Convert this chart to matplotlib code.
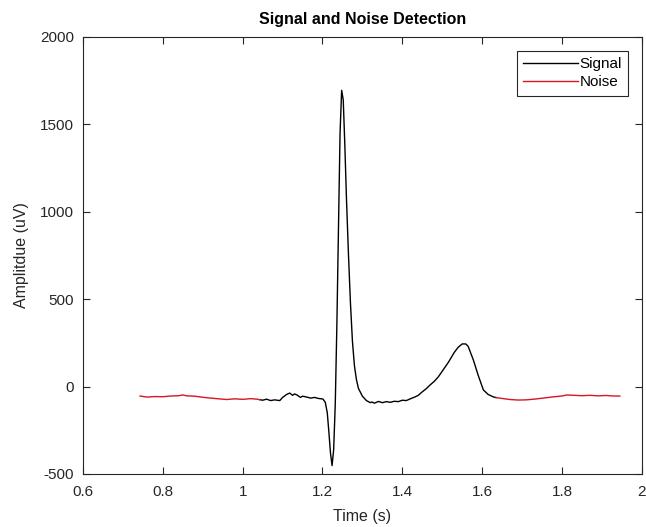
import matplotlib
matplotlib.use("Agg")
import matplotlib.pyplot as plt

plt.rcParams['font.family'] = ['Liberation Sans', 'DejaVu Sans']
plt.rcParams['axes.unicode_minus'] = False

# noise segment before the beat
noise1_t = [0.743, 0.76, 0.78, 0.80, 0.82, 0.84, 0.85, 0.86, 0.88, 0.90, 0.92, 0.94,
            0.96, 0.98, 1.00, 1.02, 1.036, 1.043]
noise1_v = [-54, -60, -57, -58, -54, -52, -48, -53, -55, -61, -66, -70,
            -74, -70, -73, -69, -72, -75]

# detected beat
signal_t = [1.043, 1.05, 1.06, 1.07, 1.08, 1.093, 1.10, 1.11, 1.118, 1.125, 1.13,
            1.136, 1.145, 1.15, 1.161, 1.17, 1.18, 1.19, 1.201, 1.207, 1.212,
            1.216, 1.22, 1.224, 1.228, 1.232, 1.236, 1.24, 1.244, 1.248, 1.252,
            1.256, 1.26, 1.265, 1.27, 1.275, 1.28, 1.285, 1.29, 1.30, 1.31,
            1.32, 1.324, 1.33, 1.34, 1.35, 1.36, 1.37, 1.38, 1.39, 1.40, 1.41,
            1.42, 1.432, 1.44, 1.45, 1.46, 1.47, 1.48, 1.49, 1.50, 1.516, 1.53,
            1.54, 1.55, 1.559, 1.565, 1.578, 1.59, 1.603, 1.615, 1.628, 1.635]
signal_v = [-75, -78, -72, -80, -76, -80, -62, -45, -37, -50, -42,
            -48, -62, -55, -60, -66, -62, -68, -71, -90, -150,
            -260, -380, -452, -360, -100, 350, 900, 1450, 1695, 1640,
            1380, 1080, 760, 480, 260, 120, 40, -10, -55, -80,
            -92, -88, -95, -85, -92, -86, -90, -84, -86, -78, -80,
            -70, -59, -50, -30, -12, 10, 30, 55, 88, 141, 195,
            225, 244, 244, 230, 152, 65, -19, -45, -59, -63]

# noise segment after the beat
noise2_t = [1.635, 1.65, 1.67, 1.69, 1.71, 1.73, 1.756, 1.777, 1.80, 1.812, 1.83,
            1.85, 1.87, 1.89, 1.91, 1.93, 1.945]
noise2_v = [-63, -68, -74, -77, -76, -72, -65, -59, -54, -48, -50,
            -52, -50, -53, -51, -54, -54]

fig = plt.figure(figsize=(6.46, 5.27), dpi=100)
ax = fig.add_axes([0.1285, 0.1006, 0.865, 0.8292])

ax.plot(signal_t, signal_v, color='black', lw=1.0, label='Signal')
ax.plot(noise1_t, noise1_v, color=(0.85, 0.08, 0.15), lw=1.0, label='Noise')
ax.plot(noise2_t, noise2_v, color=(0.85, 0.08, 0.15), lw=1.0)

ax.set_xlim(0.6, 2)
ax.set_ylim(-500, 2000)
ax.set_xticks([0.6, 0.8, 1, 1.2, 1.4, 1.6, 1.8, 2])
ax.set_xticklabels(['0.6', '0.8', '1', '1.2', '1.4', '1.6', '1.8', '2'])
ax.set_yticks([-500, 0, 500, 1000, 1500, 2000])

grey = (0.15, 0.15, 0.15)
for s in ax.spines.values():
    s.set_color(grey)
    s.set_linewidth(0.8)
ax.tick_params(direction='in', top=True, right=True, length=5, width=0.8,
               colors=grey, labelsize=11, labelcolor=grey)
ax.tick_params(axis='x', pad=8)
ax.tick_params(axis='y', pad=6.5)

ax.set_title('Signal and Noise Detection', fontsize=11.5, fontweight='bold', pad=9)
ax.set_xlabel('Time (s)', fontsize=11.5, color=grey, labelpad=7)
ax.set_ylabel('Amplitdue (uV)', fontsize=11.5, color=grey, labelpad=8)

leg = ax.legend(loc='upper right', fancybox=False, edgecolor=grey, framealpha=1,
                fontsize=11, handlelength=3.6, handletextpad=0.1,
                borderpad=0.4, labelspacing=0.3, borderaxespad=0.9)
leg.get_frame().set_linewidth(0.8)

fig.savefig('out.png', dpi=100)
